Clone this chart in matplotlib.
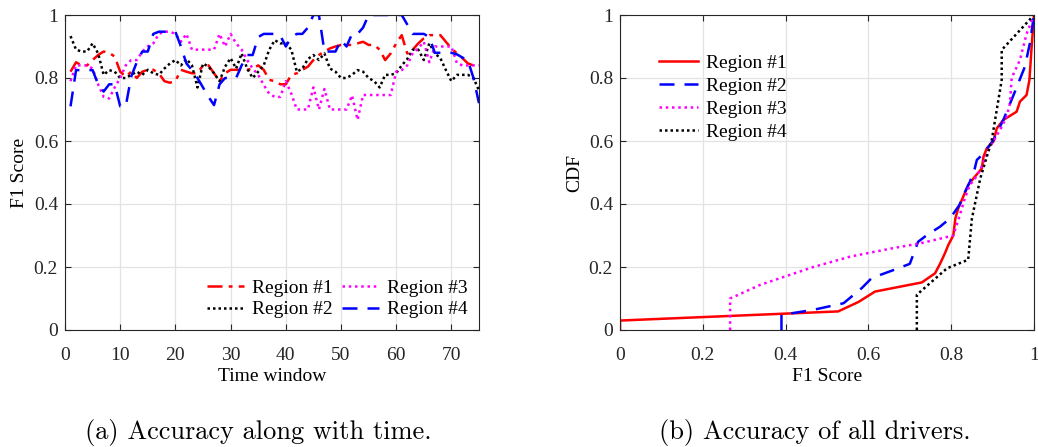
import matplotlib
matplotlib.use("Agg")
import matplotlib.pyplot as plt
import numpy as np

# ---------------- data: (a) F1 score over time windows ----------------
time_window = list(range(1, 76))
f1_region1 = [0.82, 0.85, 0.84, 0.84, 0.857, 0.873, 0.884, 0.88, 0.868, 0.82,
              0.804, 0.82, 0.80, 0.82, 0.826, 0.826, 0.815, 0.79, 0.785, 0.79,
              0.826, 0.82, 0.815, 0.815, 0.84, 0.84, 0.815, 0.79, 0.815, 0.826,
              0.826, 0.826, 0.826, 0.83, 0.84, 0.826, 0.794, 0.79, 0.78, 0.78,
              0.81, 0.815, 0.826, 0.836, 0.857, 0.873, 0.884, 0.894, 0.90, 0.905,
              0.905, 0.905, 0.91, 0.915, 0.905, 0.905, 0.89, 0.857, 0.878, 0.91,
              0.936, 0.878, 0.89, 0.91, 0.926, 0.936, 0.936, 0.936, 0.915, 0.894,
              0.878, 0.863, 0.846, 0.84, 0.836]
f1_region2 = [0.933, 0.89, 0.884, 0.884, 0.91, 0.878, 0.81, 0.825, 0.82, 0.80,
              0.80, 0.81, 0.82, 0.81, 0.826, 0.815, 0.81, 0.83, 0.846, 0.857,
              0.84, 0.86, 0.84, 0.77, 0.846, 0.836, 0.815, 0.79, 0.836, 0.863,
              0.83, 0.878, 0.83, 0.80, 0.82, 0.84, 0.89, 0.92, 0.91, 0.91,
              0.89, 0.82, 0.83, 0.86, 0.873, 0.857, 0.878, 0.83, 0.82, 0.80,
              0.80, 0.81, 0.825, 0.82, 0.80, 0.79, 0.77, 0.81, 0.81, 0.815,
              0.84, 0.86, 0.89, 0.89, 0.857, 0.91, 0.878, 0.863, 0.825, 0.79,
              0.81, 0.81, 0.81, 0.80, 0.76]
f1_region3 = [0.79, 0.84, 0.84, 0.84, 0.83, 0.78, 0.74, 0.735, 0.77, 0.80,
              0.84, 0.857, 0.857, 0.884, 0.90, 0.91, 0.94, 0.947, 0.947, 0.94,
              0.915, 0.94, 0.89, 0.89, 0.89, 0.89, 0.89, 0.94, 0.90, 0.94,
              0.91, 0.89, 0.857, 0.83, 0.81, 0.778, 0.75, 0.74, 0.74, 0.79,
              0.75, 0.70, 0.70, 0.70, 0.77, 0.70, 0.765, 0.70, 0.70, 0.70,
              0.70, 0.745, 0.667, 0.746, 0.746, 0.746, 0.746, 0.746, 0.746, 0.82,
              0.825, 0.84, 0.88, 0.894, 0.915, 0.85, 0.90, 0.90, 0.90, 0.90,
              0.847, 0.84, 0.84, 0.84, 0.84]
f1_region4 = [0.71, 0.825, 0.825, 0.825, 0.825, 0.78, 0.757, 0.78, 0.78, 0.71,
              0.71, 0.805, 0.85, 0.884, 0.884, 0.94, 0.947, 0.947, 0.947, 0.947,
              0.90, 0.846, 0.825, 0.80, 0.77, 0.74, 0.714, 0.78, 0.80, 0.80,
              0.80, 0.84, 0.873, 0.873, 0.93, 0.94, 0.94, 0.94, 0.935, 0.90,
              0.93, 0.94, 0.94, 0.96, 1.0, 1.0, 0.884, 0.884, 0.884, 0.92,
              0.90, 0.94, 0.94, 0.96, 1.0, 1.0, 1.0, 1.0, 1.0, 1.0,
              1.0, 0.97, 0.94, 0.94, 0.94, 0.93, 0.88, 0.88, 0.88, 0.88,
              0.875, 0.865, 0.855, 0.80, 0.72]

# ---------------- data: (b) CDF of F1 score ----------------
cdf1_x = [0.0, 0.0, 0.527, 0.576, 0.616, 0.729, 0.761, 0.773, 0.785, 0.793,
          0.805, 0.81, 0.817, 0.829, 0.841, 0.853, 0.874, 0.878, 0.886, 0.902,
          0.91, 0.926, 0.958, 0.966, 0.982, 0.989, 0.994, 1.0]
cdf1_y = [0.0, 0.03, 0.059, 0.089, 0.122, 0.151, 0.18, 0.21, 0.244, 0.27,
          0.30, 0.354, 0.386, 0.423, 0.46, 0.48, 0.513, 0.55, 0.577, 0.598,
          0.64, 0.667, 0.693, 0.725, 0.746, 0.794, 0.894, 1.0]
cdf2_x = [0.39, 0.39, 0.467, 0.54, 0.584, 0.608, 0.66, 0.70, 0.72, 0.74,
          0.773, 0.797, 0.82, 0.834, 0.845, 0.857, 0.862, 0.878, 0.902, 0.926,
          0.954, 0.978, 0.99, 1.0]
cdf2_y = [0.0, 0.048, 0.064, 0.085, 0.133, 0.165, 0.19, 0.21, 0.28, 0.30,
          0.328, 0.354, 0.397, 0.44, 0.47, 0.513, 0.54, 0.56, 0.603, 0.667,
          0.757, 0.836, 0.91, 1.0]
cdf3_x = [0.266, 0.266, 0.338, 0.467, 0.556, 0.66, 0.725, 0.805, 0.821, 0.833,
          0.845, 0.857, 0.87, 0.894, 0.918, 0.934, 0.942, 0.946, 0.966, 0.982, 1.0]
cdf3_y = [0.0, 0.10, 0.143, 0.20, 0.233, 0.26, 0.275, 0.30, 0.365, 0.418,
          0.46, 0.48, 0.508, 0.582, 0.635, 0.677, 0.72, 0.80, 0.857, 0.94, 1.0]
cdf4_x = [0.717, 0.717, 0.79, 0.841, 0.85, 0.87, 0.898, 0.922, 0.922, 1.0]
cdf4_y = [0.0, 0.112, 0.196, 0.223, 0.354, 0.48, 0.603, 0.794, 0.889, 1.0]

legend_labels = ["Region #1", "Region #2", "Region #3", "Region #4"]

plt.rcParams['font.family'] = ['Liberation Serif', 'DejaVu Serif']
plt.rcParams['mathtext.fontset'] = 'stix'

fig = plt.figure(figsize=(10.38, 4.47), dpi=100)
W, H = 1038, 447
axA = fig.add_axes([65 / W, (H - 330) / H, 414 / W, 315 / H])
axB = fig.add_axes([620 / W, (H - 330) / H, 414 / W, 315 / H])

FS = 14
lw = 1.8

def style(ax):
    ax.grid(True, color='#e3e3e3', linewidth=0.9)
    ax.set_axisbelow(True)
    ax.tick_params(direction='in', top=True, right=True, labelsize=FS,
                   length=4, width=0.8, colors='#262626')
    ax.tick_params(axis='x', pad=12)
    ax.tick_params(axis='y', pad=5)
    for s in ax.spines.values():
        s.set_color('#262626')
        s.set_linewidth(0.8)

# (a)
axA.plot(time_window, f1_region1, color='red', lw=lw, linestyle=(0, (6, 2.5, 1.5, 2.5)),
         label=legend_labels[0])
axA.plot(time_window, f1_region2, color='black', lw=lw, linestyle=(0, (1, 1.2)),
         label=legend_labels[1])
axA.plot(time_window, f1_region3, color='magenta', lw=lw, linestyle=(0, (1, 1.5)),
         label=legend_labels[2])
axA.plot(time_window, f1_region4, color='blue', lw=lw, linestyle=(0, (6, 4)),
         label=legend_labels[3])
axA.set_xlim(0, 75)
axA.set_ylim(0, 1)
axA.set_xticks(range(0, 71, 10))
axA.set_yticks([0, 0.2, 0.4, 0.6, 0.8, 1])
axA.set_yticklabels(['0', '0.2', '0.4', '0.6', '0.8', '1'])
axA.set_xlabel('Time window', fontsize=FS, labelpad=3)
axA.set_ylabel('F1 Score', fontsize=FS, labelpad=4)
style(axA)
axA.legend(ncol=2, loc='lower right', frameon=False, fontsize=FS,
           handlelength=1.9, columnspacing=0.5, handletextpad=0.4,
           labelspacing=0.2, borderaxespad=0.2, bbox_to_anchor=(1.0, 0.0))

# (b)
axB.plot(cdf1_x, cdf1_y, color='red', lw=lw, linestyle='-', label=legend_labels[0])
axB.plot(cdf2_x, cdf2_y, color='blue', lw=lw, linestyle=(0, (6, 4)), label=legend_labels[1])
axB.plot(cdf3_x, cdf3_y, color='magenta', lw=lw, linestyle=(0, (1, 1.5)), label=legend_labels[2])
axB.plot(cdf4_x, cdf4_y, color='black', lw=lw, linestyle=(0, (1, 1.2)), label=legend_labels[3])
axB.set_xlim(0, 1)
axB.set_ylim(0, 1)
ticks = [0, 0.2, 0.4, 0.6, 0.8, 1]
labs = ['0', '0.2', '0.4', '0.6', '0.8', '1']
axB.set_xticks(ticks)
axB.set_xticklabels(labs)
axB.set_yticks(ticks)
axB.set_yticklabels(labs)
axB.set_xlabel('F1 Score', fontsize=FS, labelpad=3)
axB.set_ylabel('CDF', fontsize=FS, labelpad=4)
style(axB)
axB.legend(loc='upper left', frameon=False, fontsize=FS, handlelength=2.0,
           handletextpad=0.45, labelspacing=0.28, borderaxespad=0.0,
           bbox_to_anchor=(0.075, 0.9))

# captions
fig.text(258 / W, 1 - 432 / H, '(a) Accuracy along with time.', ha='center', va='center',
         fontsize=19, family=['cmr10', 'DejaVu Serif'])
fig.text(815 / W, 1 - 432 / H, '(b) Accuracy of all drivers.', ha='center', va='center',
         fontsize=19, family=['cmr10', 'DejaVu Serif'])

fig.savefig('out.png', dpi=100)
